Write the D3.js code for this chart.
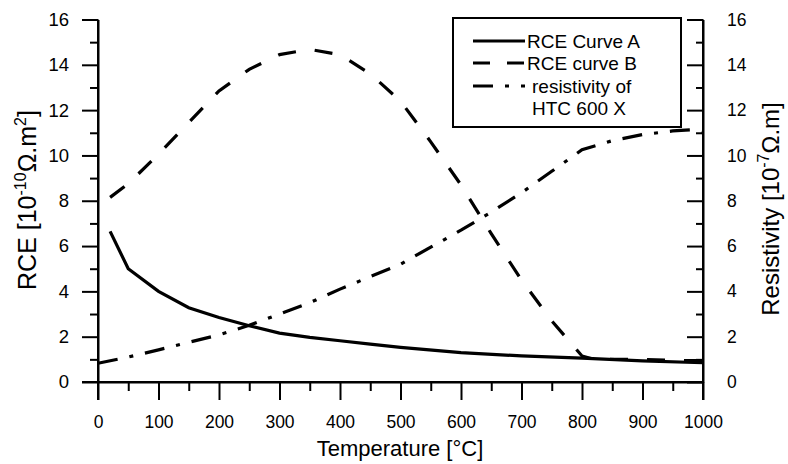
<!DOCTYPE html>
<html><head><meta charset="utf-8">
<script src="https://cdn.jsdelivr.net/npm/d3@7"></script>
<style>body{margin:0;background:#fff}svg{display:block}text{font-family:"Liberation Sans",Arial,sans-serif;fill:#000}</style>
</head><body>
<svg id="c" width="788" height="464"></svg>
<script>
// Data
const tempA = [20,50,100,150,200,250,300,350,400,450,500,600,700,800,900,1000];
const rceA  = [6.65,5.0,4.0,3.28,2.85,2.48,2.16,1.97,1.82,1.67,1.53,1.3,1.15,1.05,0.93,0.85];
const tempB = [20,50,100,150,200,250,300,350,400,450,500,550,600,650,700,750,800,820,850,900,950,1000];
const rceB  = [8.15,8.75,10.05,11.45,12.85,13.8,14.45,14.68,14.45,13.6,12.4,10.6,8.7,6.55,4.5,2.7,1.15,1.0,1.0,1.0,0.95,0.95];
const tempR = [0,50,100,150,200,250,300,350,400,450,500,550,600,650,700,750,800,850,900,950,980,1000];
const resR  = [0.83,1.1,1.42,1.75,2.08,2.5,3.0,3.5,4.1,4.65,5.2,5.95,6.7,7.5,8.35,9.3,10.25,10.65,10.92,11.08,11.13,11.0];
const xTicks = [0,100,200,300,400,500,600,700,800,900,1000];
const yTicks = [0,2,4,6,8,10,12,14,16];
const legendLabels = ["RCE Curve A","RCE curve B","resistivity of","HTC 600 X"];

const svg = d3.select("#c");
const x = d3.scaleLinear().domain([0,1000]).range([98,703]);
const yL = d3.scaleLinear().domain([0,16]).range([382,19.5]);
const yR = d3.scaleLinear().domain([0,16]).range([382,19.5]);

const fs = 17.5;
// bottom axis
const gx = svg.append("g").attr("transform","translate(0,382)");
gx.call(d3.axisBottom(x).tickValues(d3.range(50,1000,100)).tickSize(9).tickFormat("").tickSizeOuter(0));
gx.call(g=>g.select(".domain").remove());
const gx2 = svg.append("g").attr("transform","translate(0,382)");
gx2.call(d3.axisBottom(x).tickValues(xTicks).tickSize(18).tickPadding(16).tickSizeOuter(0).tickFormat(d3.format("d")));
gx2.selectAll("text").attr("font-size",fs).attr("font-family","Liberation Sans, Arial");

// left axis
const gy = svg.append("g").attr("transform","translate(98,0)");
gy.call(d3.axisLeft(yL).tickValues(d3.range(1,16,2)).tickSize(8).tickFormat("").tickSizeOuter(0));
gy.call(g=>g.select(".domain").remove());
const gy2 = svg.append("g").attr("transform","translate(98,0)");
gy2.call(d3.axisLeft(yL).tickValues(yTicks).tickSize(16).tickPadding(13).tickSizeOuter(0).tickFormat(d3.format("d")));
gy2.selectAll("text").attr("font-size",fs+1).attr("font-family","Liberation Sans, Arial");

// right axis (ticks inward)
const gr = svg.append("g").attr("transform","translate(703,0)");
gr.call(d3.axisRight(yR).tickValues(d3.range(1,16,2)).tickSize(-7).tickFormat("").tickSizeOuter(0));
gr.call(g=>g.select(".domain").remove());
const gr2 = svg.append("g").attr("transform","translate(703,0)");
gr2.call(d3.axisRight(yR).tickValues(yTicks).tickSize(-16).tickPadding(0).tickSizeOuter(0).tickFormat(d3.format("d")));
gr2.selectAll("text").attr("font-size",fs).attr("font-family","Liberation Sans, Arial").attr("x",24);

svg.selectAll(".tick line").attr("stroke","#000").attr("stroke-width",2);
svg.selectAll(".domain").attr("stroke","#000").attr("stroke-width",2);
svg.append("line").attr("x1",98).attr("x2",98).attr("y1",19.5).attr("y2",400).attr("stroke","#000").attr("stroke-width",2);
svg.append("line").attr("x1",703).attr("x2",703).attr("y1",19.5).attr("y2",400).attr("stroke","#000").attr("stroke-width",2);
svg.append("line").attr("x1",82).attr("x2",703).attr("y1",382).attr("y2",382).attr("stroke","#000").attr("stroke-width",2);

// lines
const lineA = d3.line().x((d,i)=>x(tempA[i])).y(d=>yL(d));
const lineB = d3.line().x((d,i)=>x(tempB[i])).y(d=>yL(d));
const lineR = d3.line().x((d,i)=>x(tempR[i])).y(d=>yR(d));
svg.append("path").attr("d",lineR(resR)).attr("fill","none").attr("stroke","#000").attr("stroke-width",3.2).attr("stroke-dasharray","20,12,4,12");
svg.append("path").attr("d",lineB(rceB)).attr("fill","none").attr("stroke","#000").attr("stroke-width",3.2).attr("stroke-dasharray","18,19");
svg.append("path").attr("d",lineA(rceA)).attr("fill","none").attr("stroke","#000").attr("stroke-width",3.2);

// legend
const lg = svg.append("g");
lg.append("rect").attr("x",453).attr("y",18).attr("width",228).attr("height",109).attr("fill","#fff").attr("stroke","#000").attr("stroke-width",2);
const dashes = [null,"17,17","20,12,4,12"];
const ly = [41,63,86];
dashes.forEach((d,i)=>{
  const l = lg.append("line").attr("x1",473).attr("x2",525).attr("y1",ly[i]).attr("y2",ly[i]).attr("stroke","#000").attr("stroke-width",3.2);
  if(d) l.attr("stroke-dasharray",d);
});
const lyT = [41,63,86,108];
const lxT = [527,527,532,532];
legendLabels.forEach((t,i)=>{
  lg.append("text").attr("x",lxT[i]).attr("y",lyT[i]).attr("dy","0.36em").attr("font-size",19).text(t);
});

// axis titles
svg.append("text").attr("x",400).attr("y",456).attr("text-anchor","middle").attr("font-size",22).text("Temperature [°C]");
const tl = svg.append("text").attr("transform","translate(36,200) rotate(-90)").attr("text-anchor","middle").attr("font-size",25);
tl.append("tspan").text("RCE [10");
tl.append("tspan").attr("dy",-10).attr("font-size",16).text("-10");
tl.append("tspan").attr("dy",10).text("Ω.m");
tl.append("tspan").attr("dy",-10).attr("font-size",16).text("2");
tl.append("tspan").attr("dy",10).text("]");
const tr = svg.append("text").attr("transform","translate(779,209) rotate(-90)").attr("text-anchor","middle").attr("font-size",24);
tr.append("tspan").text("Resistivity [10");
tr.append("tspan").attr("dy",-10).attr("font-size",16).text("-7");
tr.append("tspan").attr("dy",10).text("Ω.m]");
</script>
</body></html>
